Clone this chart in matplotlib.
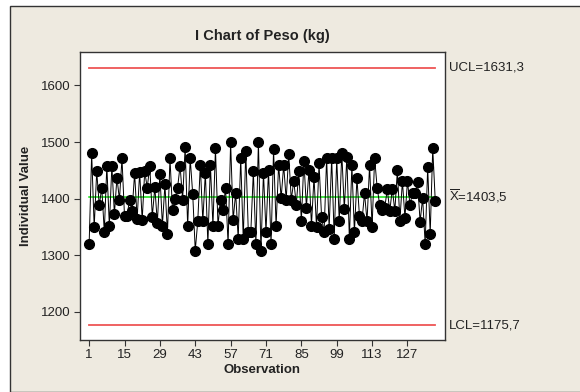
import numpy as np
import matplotlib
matplotlib.use("Agg")
import matplotlib.pyplot as plt
from matplotlib.patches import Rectangle

# individual weights (kg)
peso = [1319, 1480, 1349, 1448, 1388, 1419, 1341, 1458, 1352, 1458,
        1372, 1437, 1398, 1471, 1369, 1369, 1398, 1378, 1445, 1364,
        1447, 1362, 1448, 1419, 1458, 1368, 1420, 1357, 1444, 1352,
        1425, 1338, 1471, 1379, 1400, 1419, 1458, 1398, 1491, 1351,
        1471, 1408, 1308, 1360, 1459, 1360, 1446, 1319, 1460, 1351,
        1489, 1352, 1398, 1379, 1419, 1319, 1500, 1362, 1410, 1329,
        1472, 1328, 1484, 1341, 1341, 1448, 1319, 1500, 1308, 1446,
        1341, 1450, 1319, 1487, 1351, 1460, 1401, 1459, 1398, 1479,
        1398, 1431, 1389, 1448, 1360, 1467, 1384, 1450, 1352, 1438,
        1349, 1462, 1368, 1340, 1472, 1347, 1472, 1329, 1471, 1360,
        1481, 1381, 1474, 1329, 1459, 1340, 1436, 1369, 1361, 1409,
        1360, 1459, 1349, 1472, 1419, 1389, 1379, 1384, 1416, 1378,
        1417, 1378, 1450, 1361, 1431, 1366, 1431, 1389, 1410, 1409,
        1429, 1359, 1401, 1320, 1455, 1338, 1489, 1396]
ucl = 1631.3
center = 1403.5
lcl = 1175.7
xticks = [1, 15, 29, 43, 57, 71, 85, 99, 113, 127]
yticks = [1200, 1300, 1400, 1500, 1600]

plt.rcParams['font.family'] = ['Liberation Sans', 'DejaVu Sans']
plt.rcParams['mathtext.fontset'] = 'custom'
plt.rcParams['mathtext.rm'] = 'Liberation Sans'

obs = np.arange(1, len(peso) + 1)
bg = "#EEEAE0"
txt = "#222222"

fig = plt.figure(figsize=(5.8, 3.92), dpi=100)
fig.patch.set_facecolor("white")
fig.patches.append(Rectangle((10 / 580, 0), 1.0, 1 - 6 / 392, transform=fig.transFigure,
                             facecolor=bg, edgecolor="#333333", linewidth=1.0, zorder=-1))

ax = fig.add_axes([0.138, 0.133, 0.629, 0.734])
ax.set_facecolor("white")

ax.plot([obs[0], obs[-1]], [ucl, ucl], color="#EE5555", lw=1.3, zorder=1)
ax.plot([obs[0], obs[-1]], [lcl, lcl], color="#EE5555", lw=1.3, zorder=1)
ax.plot([obs[0], obs[-1]], [center, center], color="#11E011", lw=1.1, zorder=1)
ax.plot(obs, peso, color="black", lw=0.7, marker="o", markersize=7, zorder=2)

ax.set_xlim(-2.6, 141.8)
ax.set_ylim(1150, 1659)
ax.set_xticks(xticks)
ax.set_yticks(yticks)
ax.tick_params(direction="out", length=4, width=0.8, pad=2.5, labelsize=9.5, colors="#333333",
               labelcolor=txt, top=False, right=False)
for s in ax.spines.values():
    s.set_color("#333333")
    s.set_linewidth(1.0)

ax.set_title("I Chart of Peso (kg)", fontsize=10.5, fontweight="bold", color=txt, pad=9)
ax.set_xlabel("Observation", fontsize=9.5, fontweight="bold", color=txt, labelpad=2)
ax.set_ylabel("Individual Value", fontsize=9.5, fontweight="bold", color=txt, labelpad=7)

ax.text(1.012, ucl, "UCL=1631,3", transform=ax.get_yaxis_transform(), va="center",
        ha="left", fontsize=9.5, color=txt)
ax.text(1.012, center, r"$\overline{\mathrm{X}}$=1403,5", transform=ax.get_yaxis_transform(),
        va="center", ha="left", fontsize=9.5, color=txt)
ax.text(1.012, lcl, "LCL=1175,7", transform=ax.get_yaxis_transform(), va="center",
        ha="left", fontsize=9.5, color=txt)

fig.savefig("out.png", dpi=100, facecolor=fig.get_facecolor())
